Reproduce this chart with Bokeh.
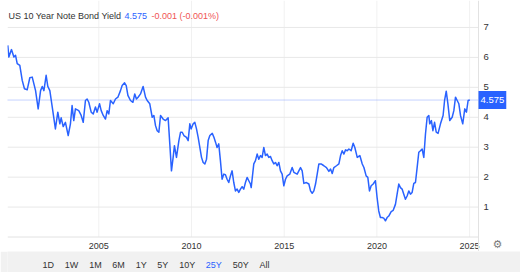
from bokeh.plotting import figure
from bokeh.models import Range1d, Label, Span
from bokeh.layouts import column
from bokeh.embed import file_html
from bokeh.resources import INLINE
from bokeh.core.properties import value

# ---------------- data ----------------
years = [
    2000.09, 2000.15, 2000.29, 2000.42, 2000.51, 2000.60, 2000.74, 2000.87, 2000.99, 2001.14,
    2001.28, 2001.41, 2001.59, 2001.73, 2001.86, 2001.95, 2002.04, 2002.16, 2002.25, 2002.36,
    2002.49, 2002.66, 2002.79, 2002.90, 2002.97, 2003.08, 2003.20, 2003.35, 2003.47, 2003.56,
    2003.65, 2003.74, 2003.92, 2004.05, 2004.16, 2004.28, 2004.37, 2004.46, 2004.59, 2004.70,
    2004.82, 2004.91, 2005.04, 2005.13, 2005.24, 2005.36, 2005.45, 2005.54, 2005.63, 2005.78,
    2005.90, 2006.03, 2006.17, 2006.26, 2006.39, 2006.48, 2006.57, 2006.71, 2006.84, 2006.94,
    2007.03, 2007.12, 2007.25, 2007.39, 2007.52, 2007.61, 2007.75, 2007.88, 2007.97, 2008.06,
    2008.15, 2008.24, 2008.33, 2008.47, 2008.60, 2008.74, 2008.83, 2008.92, 2009.01, 2009.08,
    2009.19, 2009.32, 2009.41, 2009.50, 2009.59, 2009.73, 2009.82, 2009.91, 2009.98, 2010.09,
    2010.18, 2010.27, 2010.36, 2010.45, 2010.54, 2010.63, 2010.72, 2010.81, 2010.90, 2010.99,
    2011.12, 2011.21, 2011.30, 2011.38, 2011.47, 2011.56, 2011.65, 2011.74, 2011.83, 2011.92,
    2012.01, 2012.10, 2012.19, 2012.28, 2012.37, 2012.46, 2012.55, 2012.64, 2012.73, 2012.82,
    2012.91, 2013.00, 2013.09, 2013.18, 2013.22, 2013.36, 2013.45, 2013.54, 2013.63, 2013.72,
    2013.81, 2013.90, 2013.99, 2014.08, 2014.17, 2014.26, 2014.35, 2014.44, 2014.53, 2014.62,
    2014.71, 2014.80, 2014.89, 2014.98, 2015.07, 2015.16, 2015.30, 2015.43, 2015.52, 2015.70,
    2015.88, 2015.97, 2016.06, 2016.20, 2016.33, 2016.42, 2016.51, 2016.60, 2016.69, 2016.78,
    2016.87, 2016.99, 2017.14, 2017.28, 2017.41, 2017.50, 2017.59, 2017.68, 2017.82, 2017.95,
    2018.04, 2018.13, 2018.22, 2018.31, 2018.40, 2018.49, 2018.61, 2018.72, 2018.81, 2018.94,
    2019.08, 2019.21, 2019.30, 2019.42, 2019.51, 2019.60, 2019.69, 2019.80, 2019.92, 2020.01,
    2020.10, 2020.19, 2020.28, 2020.37, 2020.46, 2020.55, 2020.64, 2020.77, 2020.88, 2021.00,
    2021.09, 2021.18, 2021.27, 2021.36, 2021.45, 2021.54, 2021.63, 2021.72, 2021.81, 2021.90,
    2021.99, 2022.08, 2022.17, 2022.26, 2022.35, 2022.44, 2022.53, 2022.62, 2022.71, 2022.80,
    2022.85, 2022.94, 2023.02, 2023.11, 2023.20, 2023.30, 2023.43, 2023.57, 2023.65, 2023.74,
    2023.83, 2023.93, 2024.06, 2024.15, 2024.24, 2024.33, 2024.42, 2024.51, 2024.63, 2024.74,
    2024.83, 2024.92, 2025.01,
]

yields = [
    6.40, 6.01, 6.26, 6.01, 6.07, 5.79, 5.73, 5.23, 4.95, 4.92,
    5.32, 5.34, 4.89, 4.28, 4.89, 5.03, 4.89, 5.40, 5.03, 4.89,
    4.34, 3.61, 4.17, 3.78, 3.98, 3.69, 3.83, 3.39, 3.78, 4.39,
    3.89, 4.28, 4.22, 4.06, 3.83, 4.56, 4.61, 4.50, 4.17, 4.11,
    4.34, 4.17, 4.45, 4.22, 4.06, 3.94, 4.22, 4.11, 4.56, 4.45,
    4.61, 4.67, 4.89, 5.06, 5.15, 5.06, 4.73, 4.56, 4.50, 4.78,
    4.61, 4.67, 4.78, 5.03, 4.67, 4.56, 4.45, 4.00, 4.06, 3.72,
    3.55, 3.50, 4.06, 3.94, 3.89, 3.98, 3.11, 2.21, 2.66, 3.05,
    2.66, 3.22, 3.50, 3.50, 3.39, 3.33, 3.22, 3.78, 3.61, 3.78,
    3.83, 3.61, 3.33, 2.99, 2.66, 2.49, 2.44, 2.60, 3.22, 3.39,
    3.46, 3.33, 3.16, 2.99, 3.11, 2.55, 1.93, 2.10, 2.08, 1.93,
    1.82, 2.04, 2.21, 1.82, 1.54, 1.60, 1.49, 1.60, 1.68, 1.60,
    1.82, 1.99, 1.88, 1.77, 1.65, 2.44, 2.55, 2.77, 2.60, 2.72,
    2.66, 2.99, 2.72, 2.77, 2.66, 2.69, 2.55, 2.44, 2.49, 2.38,
    2.49, 2.21, 2.10, 1.71, 1.93, 2.04, 2.10, 2.32, 2.16, 2.10,
    2.32, 2.21, 1.79, 1.82, 1.77, 1.54, 1.46, 1.54, 1.77, 2.10,
    2.44, 2.44, 2.38, 2.32, 2.19, 2.27, 2.12, 2.32, 2.38, 2.44,
    2.72, 2.88, 2.77, 2.91, 2.88, 2.94, 2.88, 3.13, 2.99, 2.66,
    2.72, 2.44, 2.32, 2.04, 1.99, 1.54, 1.71, 1.77, 1.88, 1.32,
    0.87, 0.65, 0.65, 0.63, 0.54, 0.65, 0.70, 0.85, 0.89, 1.09,
    1.43, 1.77, 1.65, 1.60, 1.43, 1.26, 1.37, 1.54, 1.43, 1.49,
    1.79, 1.82, 2.32, 2.83, 2.88, 2.94, 2.66, 3.44, 4.00, 4.06,
    3.78, 3.89, 3.55, 3.83, 3.50, 3.46, 3.78, 4.06, 4.56, 4.87,
    4.45, 3.89, 4.00, 4.22, 4.67, 4.56, 4.45, 4.06, 3.78, 4.28,
    4.17, 4.56, 4.575,
]

x_ticks = [2005, 2010, 2015, 2020, 2025]
y_ticks = [1, 2, 3, 4, 5, 6, 7]
title_text = "US 10 Year Note Bond Yield"
last_value = 4.575
change_text = "-0.001 (-0.001%)"
range_buttons = ["1D", "1W", "1M", "6M", "1Y", "5Y", "10Y", "25Y", "50Y", "All"]
selected_button = "25Y"

# ---------------- styling / layout constants ----------------
FONT = "Liberation Sans"
BLUE = "#2962ff"
W, H_MAIN = 520, 251
LEFT, RIGHT = 7, 42            # plot area starts 7px from the left; 42px price scale at right
PLOT_BOTTOM = 236.5            # px from the top where the value 0 sits
X0, X1 = 2000.076, 2025.48     # visible time window
Y1 = 7.9                       # value at the top edge
button_x = [47.7, 71, 95, 118, 140.7, 162.3, 186.7, 213.3, 240.3, 264]
GEAR_X = 2026.5                # settings icon position on the time scale

xs = (W - LEFT - RIGHT) / (X1 - X0)     # px per year
ys = PLOT_BOTTOM / Y1                   # px per percentage point
X_END = X1 + RIGHT / xs
Y0 = -(H_MAIN - PLOT_BOTTOM) / ys

# ---------------- main chart ----------------
p = figure(width=W, height=H_MAIN,
           x_range=Range1d(X0, X_END), y_range=Range1d(Y0, Y1),
           output_backend="svg", toolbar_location=None,
           x_axis_location=None, y_axis_location=None,
           min_border_left=LEFT, min_border_right=0, min_border_top=0, min_border_bottom=0)
p.title.visible = False
p.outline_line_color = None
p.grid.visible = False

# grid lines (limited to the plot area)
p.segment(x0=x_ticks, x1=x_ticks, y0=[0] * len(x_ticks), y1=[Y1] * len(x_ticks),
          line_color="#f1f1f1", line_width=1)
p.segment(x0=[X0] * len(y_ticks), x1=[X1] * len(y_ticks), y0=y_ticks, y1=y_ticks,
          line_color="#e8e8e8", line_width=1)
p.segment(x0=[X0], x1=[X1], y0=[0], y1=[0], line_color="#e2e2e2", line_width=1)
p.add_layout(Span(location=X1, dimension="height", line_color="#e2e2e2", line_width=1))

# time scale labels (below the plot area)
p.text(x=x_ticks, y=[0] * len(x_ticks), text=[str(t) for t in x_ticks],
       y_offset=8.5, text_font=value(FONT), text_font_size="9px", text_color="#333333",
       text_align="center", text_baseline="middle")

# price scale labels (right)
p.text(x=[X1] * len(y_ticks), y=y_ticks, text=[str(t) for t in y_ticks],
       x_offset=5, text_font=value(FONT), text_font_size="9.5px", text_color="#333333",
       text_align="left", text_baseline="middle")

# settings icon
p.text(x=[GEAR_X], y=[0], text=["\u2699"], y_offset=7,
       text_font=value("DejaVu Sans"), text_font_size="11px", text_color="#7a7a7a",
       text_align="center", text_baseline="middle")

# last-value dotted line
p.segment(x0=[X0], x1=[X1], y0=[last_value], y1=[last_value], line_color="#6b8fff",
          line_dash="1 1", line_width=1, line_alpha=0.8)

# series
p.line(years, yields, line_color=BLUE, line_width=1.5, line_join="round")

# current value badge
p.add_layout(Label(x=X1, y=last_value, x_units="data", y_units="data",
                   text=f"{last_value}", text_font=FONT, text_font_size="9.5px",
                   text_color="white", text_baseline="middle", text_align="left",
                   background_fill_color=BLUE, padding=(2, 6)))

# header texts
head_y = H_MAIN - 15
p.add_layout(Label(x=1, y=head_y, x_units="screen", y_units="screen", text=title_text,
                   text_font=FONT, text_font_size="9px", text_color="#333333",
                   text_baseline="middle"))
p.add_layout(Label(x=117, y=head_y, x_units="screen", y_units="screen", text=f"{last_value}",
                   text_font=FONT, text_font_size="9px", text_color=BLUE,
                   text_baseline="middle"))
p.add_layout(Label(x=144, y=head_y, x_units="screen", y_units="screen", text=change_text,
                   text_font=FONT, text_font_size="9px", text_color="#f05454",
                   text_baseline="middle"))

# ---------------- range selector bar ----------------
bar = figure(width=W, height=21, x_range=Range1d(LEFT, W), y_range=Range1d(0, 21),
             output_backend="svg", toolbar_location=None,
             x_axis_location=None, y_axis_location=None,
             min_border_left=LEFT, min_border_right=0, min_border_top=0, min_border_bottom=0)
bar.title.visible = False
bar.grid.visible = False
bar.outline_line_color = None
bar.background_fill_color = "#f1f1f1"
bar.border_fill_color = "#f1f1f1"
colors = [BLUE if b == selected_button else "#333333" for b in range_buttons]
bar.text(x=button_x, y=[8] * len(range_buttons), text=range_buttons,
         text_color=colors, text_font=value(FONT), text_font_size="9px",
         text_align="center", text_baseline="middle")

layout = column(p, bar, spacing=0)
open("out.html", "w").write(file_html(layout, INLINE))
